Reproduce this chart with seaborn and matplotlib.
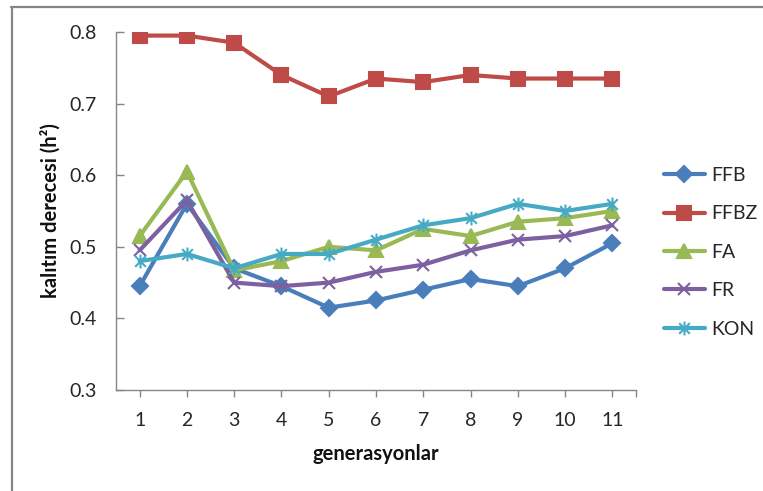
import matplotlib
matplotlib.use("Agg")
import matplotlib.pyplot as plt
from matplotlib.path import Path
from matplotlib.lines import Line2D
import seaborn as sns
import pandas as pd

generations = [1, 2, 3, 4, 5, 6, 7, 8, 9, 10, 11]
series_names = ["FFB", "FFBZ", "FA", "FR", "KON"]
ffb = [0.445, 0.56, 0.47, 0.445, 0.415, 0.425, 0.44, 0.455, 0.445, 0.47, 0.505]
ffbz = [0.795, 0.795, 0.785, 0.74, 0.71, 0.735, 0.73, 0.74, 0.735, 0.735, 0.735]
fa = [0.515, 0.605, 0.467, 0.48, 0.5, 0.495, 0.525, 0.515, 0.535, 0.54, 0.55]
fr = [0.495, 0.565, 0.45, 0.445, 0.45, 0.465, 0.475, 0.495, 0.51, 0.515, 0.53]
kon = [0.48, 0.49, 0.47, 0.49, 0.49, 0.51, 0.53, 0.54, 0.56, 0.55, 0.56]
y_ticks = [0.3, 0.4, 0.5, 0.6, 0.7, 0.8]

df = pd.DataFrame({"generasyon": generations * 5,
                   "h2": ffb + ffbz + fa + fr + kon,
                   "seri": [n for n in series_names for _ in generations]})

sns.set_theme(style="white")
plt.rcParams["font.family"] = ["Lato", "DejaVu Sans"]

# asterisk marker: an X with a vertical bar
star = Path([(-1, -1), (1, 1), (-1, 1), (1, -1), (0, -1.3), (0, 1.3)],
            [Path.MOVETO, Path.LINETO, Path.MOVETO, Path.LINETO, Path.MOVETO, Path.LINETO])

styles = {
    "FFB": dict(color="#4A7EBB", marker="D", ms=8.5),
    "FFBZ": dict(color="#BE4B48", marker="s", ms=10.5),
    "FA": dict(color="#98B954", marker="^", ms=10),
    "FR": dict(color="#7D60A0", marker="x", ms=9),
    "KON": dict(color="#46AAC5", marker=star, ms=10),
}

fig = plt.figure(figsize=(7.63, 4.91), dpi=100)
ax = fig.add_axes([116 / 763, 1 - 390 / 491, 520 / 763, 358 / 491])

handles = []
for name in series_names:
    st = styles[name]
    sub = df[df["seri"] == name]
    sns.lineplot(data=sub, x="generasyon", y="h2", ax=ax, color=st["color"],
                 linewidth=3, marker=st["marker"], markersize=st["ms"],
                 markeredgecolor=st["color"], markerfacecolor=st["color"],
                 markeredgewidth=1.5, legend=False)
    handles.append(Line2D([], [], color=st["color"], lw=3, marker=st["marker"],
                          ms=st["ms"], mec=st["color"], mfc=st["color"], mew=1.5,
                          label=name))

ax.set_xlim(0.5, 11.5)
ax.set_ylim(0.3, 0.8)
ax.set_xticks(generations)
ax.set_xticklabels([str(g) for g in generations])
ax.set_yticks(y_ticks)
ax.set_yticklabels([f"{t:.1f}" for t in y_ticks])
ax.set_xticks([11.5], minor=True)

for side in ["top", "right"]:
    ax.spines[side].set_visible(False)
for side in ["left", "bottom"]:
    ax.spines[side].set_color("#868686")
    ax.spines[side].set_linewidth(1)

ax.tick_params(axis="y", which="both", direction="in", length=6, width=1,
               color="#868686", labelsize=14, pad=14, left=True)
ax.tick_params(axis="x", which="both", direction="out", length=5, width=1,
               color="#868686", labelsize=14, pad=11, bottom=True)
for lbl in ax.get_xticklabels() + ax.get_yticklabels():
    lbl.set_color("#262626")

ax.set_xlabel("generasyonlar", fontsize=14.5, fontweight="bold", labelpad=11,
              color="#111111")
ax.set_ylabel("kalıtım derecesi (h²)", fontsize=14.5, fontweight="bold",
              labelpad=6, color="#111111")

leg = fig.legend(handles=handles, loc="upper left",
                 bbox_to_anchor=(664 / 763, 1 - 167 / 491), frameon=False,
                 fontsize=14, handlelength=2.1, labelspacing=1.1,
                 handletextpad=0.35, borderpad=0, borderaxespad=0)
for t in leg.get_texts():
    t.set_color("#262626")

# outer frame edges
fig.add_artist(Line2D([11.5 / 763, 11.5 / 763], [0, 1 - 7 / 491],
                      transform=fig.transFigure, color="#868686", lw=1.6))
fig.add_artist(Line2D([11 / 763, 1], [1 - 7 / 491, 1 - 7 / 491],
                      transform=fig.transFigure, color="#868686", lw=1.6))

fig.savefig("out.png", dpi=100, facecolor="white")
